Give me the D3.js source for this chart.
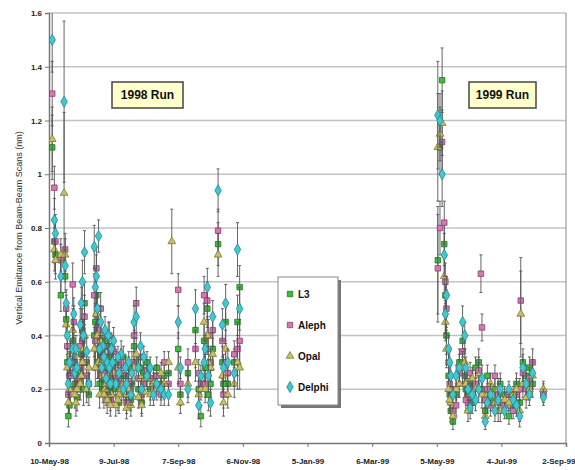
<!DOCTYPE html>
<html><head><meta charset="utf-8">
<script src="https://cdn.jsdelivr.net/npm/d3@7"></script>
<style>
body{margin:0;background:#fff}
svg{display:block}
text{font-family:"Liberation Sans",Arial,sans-serif}
</style>
</head><body>
<svg id="chart" width="575" height="470"></svg>
<script>
// ---------- data ----------
const dates = [
 "1998-05-13","1998-05-15","1998-05-16","1998-05-21","1998-05-24","1998-05-25","1998-05-26","1998-05-27","1998-05-28","1998-05-30",
 "1998-06-01","1998-06-03","1998-06-05","1998-06-08","1998-06-10","1998-06-12","1998-06-14","1998-06-16","1998-06-21","1998-06-23",
 "1998-06-25","1998-06-27","1998-06-29","1998-07-01","1998-07-03","1998-07-05","1998-07-07","1998-07-09","1998-07-11","1998-07-14",
 "1998-07-16","1998-07-18","1998-07-21","1998-07-23","1998-07-26","1998-07-28","1998-07-30","1998-08-01","1998-08-04","1998-08-06",
 "1998-08-09","1998-08-12","1998-08-15","1998-08-18","1998-08-22","1998-08-25","1998-08-29","1998-09-01","1998-09-07","1998-09-09",
 "1998-09-16","1998-09-23","1998-09-26","1998-09-28","1998-10-01","1998-10-04","1998-10-07","1998-10-09","1998-10-14","1998-10-18",
 "1998-10-21","1998-10-23","1998-10-29","1998-11-01","1998-11-03",
 "1999-05-06","1999-05-08","1999-05-10","1999-05-12","1999-05-14","1999-05-16","1999-05-18","1999-05-20","1999-05-23","1999-05-26",
 "1999-05-29","1999-05-31","1999-06-03","1999-06-05","1999-06-07","1999-06-10","1999-06-13","1999-06-15","1999-06-16","1999-06-19",
 "1999-06-21","1999-06-24","1999-06-28","1999-07-01","1999-07-03","1999-07-07","1999-07-11","1999-07-15","1999-07-18","1999-07-21",
 "1999-07-22","1999-07-24","1999-07-27","1999-07-30","1999-08-02","1999-08-12",
 "1998-05-29","1998-06-02","1998-06-04","1998-06-09","1998-06-11","1998-06-22","1998-06-24","1998-06-26","1998-06-28","1998-06-30",
 "1998-07-02","1998-07-04","1998-07-06","1998-07-08","1998-07-13","1998-07-20","1998-07-25","1998-08-03","1998-10-02","1998-10-05",
 "1998-10-19","1999-05-13","1999-05-17","1999-06-01"
];
const l3 = [
 1.10,0.75,0.70,0.55,null,0.62,0.46,0.30,0.10,0.20,
 0.38,0.22,0.17,0.25,0.42,0.52,0.30,0.18,0.40,0.55,
 0.35,0.28,0.20,0.38,0.26,0.32,0.24,0.20,0.30,0.15,
 0.25,0.32,0.18,0.28,0.22,0.36,0.30,0.20,0.15,0.26,
 0.30,0.20,0.24,0.28,0.22,0.25,0.26,null,0.35,0.18,
 0.26,0.42,0.20,0.10,0.38,0.50,0.22,0.35,0.74,0.30,
 0.45,0.22,0.30,0.45,0.58,
 0.68,1.10,1.35,0.74,0.40,0.25,0.12,0.08,0.18,0.30,
 0.38,0.25,0.18,0.22,0.15,0.28,0.30,null,0.20,0.12,
 0.25,0.16,0.20,0.12,0.22,0.18,0.10,0.14,0.22,0.15,
 null,0.30,0.25,0.28,0.22,0.19,
 0.14,0.30,0.26,0.33,0.20,0.45,0.30,0.22,0.35,0.26,
 0.18,0.36,0.20,0.28,0.22,0.25,0.16,0.28,0.28,0.18,
 0.22,0.55,0.18,0.20
];
const aleph = [
 1.30,0.95,0.75,0.68,null,0.72,0.50,0.36,0.18,0.26,
 0.59,0.30,0.24,0.36,0.38,0.47,0.25,0.22,0.55,0.65,
 0.42,0.50,0.30,0.32,0.22,0.40,0.28,0.34,0.25,0.22,
 0.30,0.26,0.15,0.22,0.30,0.40,0.52,0.24,0.18,0.22,
 0.27,0.24,0.20,0.25,0.18,0.30,0.22,null,0.57,0.22,
 0.30,0.35,0.26,0.22,0.55,0.53,0.30,0.42,0.79,0.38,
 0.30,0.26,0.33,0.35,0.38,
 0.65,0.80,1.12,0.82,0.50,0.30,0.20,0.12,0.14,0.26,
 0.34,0.22,0.15,0.26,0.20,0.22,0.27,0.63,0.43,0.16,
 0.20,0.14,0.25,0.18,0.15,0.14,0.18,0.12,0.18,0.20,
 0.53,0.26,0.20,0.24,0.30,0.18,
 0.25,0.45,0.20,0.28,0.30,0.38,0.35,0.28,0.25,0.36,
 0.26,0.30,0.16,0.35,0.26,0.20,0.20,0.32,0.22,0.40,
 0.18,0.60,0.22,0.16
];
const opal = [
 1.13,0.72,0.68,0.70,0.93,0.70,0.44,0.28,0.15,0.33,
 0.42,0.18,0.20,0.22,0.30,0.40,0.20,0.28,0.35,0.48,
 0.30,0.38,0.25,0.20,0.16,0.22,0.18,0.26,0.14,0.18,
 0.20,0.22,0.13,0.20,0.18,0.28,0.33,0.17,0.14,0.19,
 0.24,0.18,0.22,0.20,0.26,0.22,0.30,0.75,0.28,0.15,
 0.22,0.30,0.18,0.20,0.45,0.40,0.28,0.33,0.70,0.25,
 0.35,0.18,0.22,0.30,0.28,
 1.10,1.15,1.19,0.62,0.35,0.20,0.15,0.10,0.20,0.22,
 0.28,0.30,0.12,0.18,0.24,0.20,0.25,null,0.18,0.10,
 0.18,0.22,0.15,0.20,0.12,0.16,0.15,0.18,0.20,0.12,
 0.48,0.22,0.17,0.20,0.25,0.20,
 0.20,0.35,0.15,0.25,0.35,0.28,0.40,0.18,0.30,0.18,
 0.22,0.25,0.14,0.22,0.16,0.18,0.14,0.24,0.20,0.30,
 0.15,0.45,0.16,0.22
];
const delphi = [
 1.50,0.83,0.78,0.62,1.27,0.66,0.52,0.40,0.22,0.30,
 0.35,0.26,0.28,0.44,0.60,0.71,0.34,0.22,0.73,0.62,
 0.77,0.45,0.36,0.42,0.30,0.28,0.35,0.38,0.22,0.26,
 0.33,0.20,0.22,0.30,0.26,0.45,0.47,0.28,0.20,0.32,
 0.25,0.28,0.18,0.22,0.20,0.18,0.18,null,0.45,0.28,
 0.20,0.50,0.14,0.25,0.30,0.58,0.15,0.47,0.94,0.44,
 0.52,0.30,0.26,0.72,0.50,
 1.22,1.20,1.00,0.70,0.55,0.35,0.25,0.18,0.25,0.28,
 0.45,0.40,0.20,0.13,0.18,0.16,0.20,null,0.24,0.08,
 0.15,0.18,0.12,0.16,0.20,0.12,0.20,0.16,0.14,0.10,
 null,0.28,0.22,0.18,0.26,0.17,
 0.30,0.48,0.35,0.52,0.40,0.58,0.50,0.35,0.28,0.32,
 0.24,0.40,0.22,0.30,0.32,0.28,0.18,0.36,0.35,0.25,
 0.28,0.48,0.30,0.28
];
const errs = [
 0.12,0.08,0.07,0.06,0.30,0.06,0.05,0.05,0.04,0.05,
 0.08,0.05,0.05,0.06,0.08,0.08,0.05,0.04,0.08,0.08,
 0.06,0.06,0.05,0.05,0.05,0.05,0.04,0.05,0.04,0.04,
 0.05,0.04,0.04,0.04,0.04,0.06,0.06,0.04,0.04,0.04,
 0.04,0.04,0.04,0.04,0.04,0.04,0.04,0.12,0.06,0.04,
 0.05,0.07,0.05,0.04,0.07,0.07,0.05,0.06,0.08,0.06,
 0.07,0.05,0.05,0.10,0.08,
 0.20,0.10,0.12,0.08,0.07,0.05,0.04,0.03,0.04,0.05,
 0.06,0.05,0.04,0.04,0.04,0.04,0.05,0.07,0.05,0.03,
 0.04,0.04,0.04,0.04,0.04,0.03,0.03,0.03,0.04,0.04,
 0.16,0.05,0.04,0.04,0.05,0.03,
 0.04,0.06,0.05,0.06,0.06,0.07,0.06,0.05,0.05,0.05,
 0.04,0.05,0.04,0.05,0.04,0.04,0.04,0.05,0.05,0.06,
 0.05,0.07,0.04,0.04
];
const seriesNames = ["L3","Aleph","Opal","Delphi"];
const xTickDates = ["1998-05-10","1998-07-09","1998-09-07","1998-11-06","1999-01-05","1999-03-06","1999-05-05","1999-07-04","1999-09-02"];
const yTicks = [0,0.2,0.4,0.6,0.8,1,1.2,1.4,1.6];
const yLabel = "Vertical Emittance from Beam-Beam Scans (nm)";
const runLabels = ["1998 Run","1999 Run"];

// ---------- chart ----------
const parse = d3.timeParse("%Y-%m-%d");
const svg = d3.select("#chart");
const L = 49, R = 566, T = 13, B = 443;

const x = d3.scaleTime()
  .domain([parse(xTickDates[0]), parse(xTickDates[xTickDates.length-1])])
  .range([L, R]);
const y = d3.scaleLinear().domain([0, 1.6]).range([B, T]);

// gridlines
svg.append("g").selectAll("line").data(yTicks.filter(d => d > 0)).join("line")
  .attr("x1", L).attr("x2", R)
  .attr("y1", d => y(d)).attr("y2", d => y(d))
  .attr("stroke", "#c4c4c4").attr("stroke-width", 1.5);
// right border
svg.append("line").attr("x1", R).attr("x2", R).attr("y1", T).attr("y2", B)
  .attr("stroke", "#9a9a9a").attr("stroke-width", 1.2);

// axes
const fmtY = d => String(+d.toFixed(1));
const yAxis = svg.append("g").attr("transform", `translate(${L},0)`)
  .call(d3.axisLeft(y).tickValues(yTicks).tickFormat(fmtY).tickSize(4).tickPadding(3));
const xAxis = svg.append("g").attr("transform", `translate(0,${B})`)
  .call(d3.axisBottom(x).tickValues(xTickDates.map(parse))
    .tickFormat(d3.timeFormat("%-d-%b-%y")).tickSize(4).tickPadding(11));
[yAxis, xAxis].forEach(a => {
  a.select(".domain").attr("stroke", "#777").attr("stroke-width", 1.5);
  a.selectAll(".tick line").attr("stroke", "#777");
  a.selectAll("text").attr("font-size", 8).attr("fill", "#222")
    .attr("font-family", "Liberation Sans, Arial, sans-serif").attr("font-weight", "bold");
});
// keep the last date label inside the picture
xAxis.selectAll(".tick").filter((d, i, n) => i === n.length - 1)
  .select("text").attr("text-anchor", "end").attr("dx", 9);

// y label
svg.append("text")
  .attr("transform", `translate(20,${(T+B)/2}) rotate(-90)`)
  .attr("text-anchor", "middle").attr("dominant-baseline", "middle")
  .attr("font-size", 9).attr("fill", "#333").text(yLabel);

// series
const styles = {
  "L3":     {fill: "#3dbb3d", stroke: "#1f7a1f", sym: d3.symbolSquare,   size: 30},
  "Aleph":  {fill: "#d27ab0", stroke: "#8e3a7a", sym: d3.symbolSquare,   size: 30},
  "Opal":   {fill: "#c8bf68", stroke: "#7e7a30", sym: d3.symbolTriangle, size: 26},
  "Delphi": {fill: "#40c8d0", stroke: "#208890", sym: d3.symbolDiamond,  size: 36}
};
const valuesBy = {"L3": l3, "Aleph": aleph, "Opal": opal, "Delphi": delphi};

svg.append("clipPath").attr("id", "clip").append("rect")
  .attr("x", L).attr("y", T).attr("width", R - L).attr("height", B - T);
const plot = svg.append("g").attr("clip-path", "url(#clip)");

seriesNames.forEach(name => {
  const vals = valuesBy[name];
  const pts = dates.map((d, i) => ({date: parse(d), v: vals[i], e: errs[i]})).filter(p => p.v != null);
  const st = styles[name];
  const g = plot.append("g");
  const eb = g.append("g").attr("stroke", "#555").attr("stroke-width", 0.9);
  eb.selectAll("line.v").data(pts).join("line").attr("class", "v")
    .attr("x1", p => x(p.date)).attr("x2", p => x(p.date))
    .attr("y1", p => y(p.v - p.e)).attr("y2", p => y(p.v + p.e));
  eb.selectAll("line.t").data(pts).join("line").attr("class", "t")
    .attr("x1", p => x(p.date) - 1.5).attr("x2", p => x(p.date) + 1.5)
    .attr("y1", p => y(p.v + p.e)).attr("y2", p => y(p.v + p.e));
  eb.selectAll("line.b").data(pts).join("line").attr("class", "b")
    .attr("x1", p => x(p.date) - 1.5).attr("x2", p => x(p.date) + 1.5)
    .attr("y1", p => y(p.v - p.e)).attr("y2", p => y(p.v - p.e));
  g.selectAll("path").data(pts).join("path")
    .attr("transform", p => `translate(${x(p.date)},${y(p.v)})`)
    .attr("d", d3.symbol().type(st.sym).size(st.size))
    .attr("fill", st.fill).attr("stroke", st.stroke).attr("stroke-width", 0.8);
});

// run labels
const runPos = [{x: 112, y: 82, w: 71, h: 26}, {x: 469, y: 82, w: 67, h: 26}];
runLabels.forEach((t, i) => {
  const p = runPos[i];
  svg.append("rect").attr("x", p.x).attr("y", p.y).attr("width", p.w).attr("height", p.h)
    .attr("fill", "#ffffcc").attr("stroke", "#444").attr("stroke-width", 1.5);
  svg.append("text").attr("x", p.x + p.w/2).attr("y", p.y + p.h/2)
    .attr("text-anchor", "middle").attr("dominant-baseline", "central")
    .attr("font-size", 12).attr("font-weight", "bold").attr("fill", "#111").text(t);
});

// legend
const lg = svg.append("g").attr("transform", "translate(278,277)");
lg.append("rect").attr("x", 3).attr("y", 3).attr("width", 60).attr("height", 128).attr("fill", "#777");
lg.append("rect").attr("width", 60).attr("height", 128).attr("fill", "#fff").attr("stroke", "#888");
seriesNames.forEach((name, i) => {
  const st = styles[name];
  const yy = 17 + i * 31;
  lg.append("path").attr("transform", `translate(12,${yy})`)
    .attr("d", d3.symbol().type(st.sym).size(st.size))
    .attr("fill", st.fill).attr("stroke", st.stroke).attr("stroke-width", 0.8);
  lg.append("text").attr("x", 20).attr("y", yy).attr("dominant-baseline", "central")
    .attr("font-size", 10).attr("font-weight", "bold").attr("fill", "#111").text(name);
});
</script>
</body></html>
